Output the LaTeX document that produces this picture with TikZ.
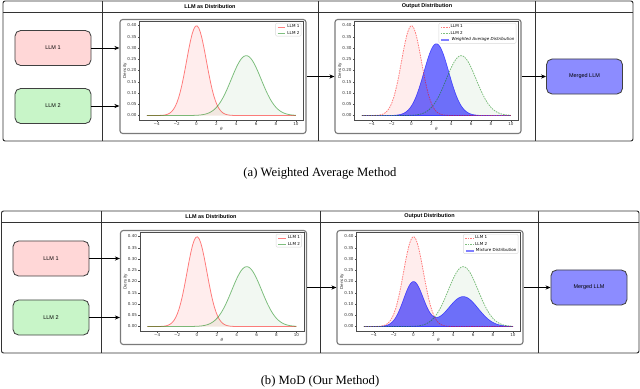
\documentclass[tikz,border=0pt]{standalone}
\usepackage{fontspec}
\setmainfont{Liberation Serif}
\setsansfont{Liberation Sans}
\newfontfamily\plotfont{DejaVu Sans}
\usetikzlibrary{arrows.meta,positioning}

\definecolor{llmpink}{HTML}{FFD7D7}
\definecolor{llmmint}{HTML}{C8F5C8}
\definecolor{mergeblue}{HTML}{8C8CFF}
\definecolor{framegray}{HTML}{7A7A7A}

% small line sample for the legends
\newcommand{\legline}[1]{\tikz[baseline=-0.35ex]\draw[#1] (0pt,0pt) -- (5.5pt,0pt);\hspace{1.2pt}}

% axes, ticks and labels of one density plot (data coordinates)
\newcommand{\plotaxes}{%
    \draw[axisline] (-5.75,-0.02) rectangle (10.75,0.42);
    \foreach \t/\l in {-4/−4,-2/−2,0/0,2/2,4/4,6/6,8/8,10/10}
        \draw[axisline] (\t,-0.02) -- ++(0pt,-1.2pt) node[ticklabel, below=0.4pt] {\l};
    \foreach \v/\l in {0/0.00,0.05/0.05,0.1/0.10,0.15/0.15,0.2/0.20,0.25/0.25,0.3/0.30,0.35/0.35,0.4/0.40}
        \draw[axisline] (-5.75,\v) -- ++(-1.2pt,0pt) node[ticklabel, left=0.4pt] {\l};
    \node[ticklabel, rotate=90] at (-7.2,0.2) {Density};
    \node[ticklabel] at (2.5,-0.062) {\itshape θ};
}

\begin{document}
\begin{tikzpicture}[x=0.025cm, y=-0.025cm,
    declare function={npdf(\a,\m,\s)=exp(-((\a-\m)*(\a-\m))/(2*\s*\s))/(2.5066*\s);}]
    % Styles
    \tikzstyle{panel} = [draw=black!80, line width=0.7pt, rounded corners=1.5pt]
    \tikzstyle{divider} = [draw=black!80, line width=0.7pt]
    \tikzstyle{header} = [font=\sffamily\bfseries\fontsize{3.9}{4.5}\selectfont, inner sep=0pt]
    \tikzstyle{llmbox} = [rectangle, draw=black!75, line width=0.6pt, rounded corners=4pt, minimum width=1.9cm, minimum height=0.875cm, font=\sffamily\fontsize{3.9}{4.5}\selectfont]
    \tikzstyle{plotframe} = [rectangle, draw=framegray, line width=0.8pt, rounded corners=2pt, fill=white, minimum width=4.65cm, minimum height=2.85cm]
    \tikzstyle{arrow} = [line width=0.55pt, -{Stealth[length=3.6pt,width=3pt]}]
    \tikzstyle{axisline} = [draw=black!70, line width=0.25pt]
    \tikzstyle{ticklabel} = [font=\plotfont\fontsize{2.9}{3.4}\selectfont, inner sep=0.3pt, text=black!80]
    \tikzstyle{legendbox} = [draw=black!15, fill=white, rounded corners=0.8pt, inner sep=1.2pt, align=left, line width=0.25pt, font=\plotfont\fontsize{2.9}{4.6}\selectfont]
    \tikzstyle{redline} = [red, draw opacity=0.5, line width=0.55pt]
    \tikzstyle{greenline} = [green!50!black, draw opacity=0.5, line width=0.55pt]
    \tikzstyle{reddashed} = [redline, dash pattern=on 1.1pt off 0.7pt]
    \tikzstyle{greendashed} = [greenline, dash pattern=on 1.1pt off 0.7pt]
    \tikzstyle{redfill} = [fill=red, fill opacity=0.07]
    \tikzstyle{greenfill} = [fill=green!50!black, fill opacity=0.05]
    \tikzstyle{bluefill} = [fill=blue, fill opacity=0.55, draw=blue, draw opacity=0.6, line width=0.4pt]
    \tikzstyle{blueline} = [blue, draw opacity=0.5, line width=1.1pt]

    \useasboundingbox (0,0) rectangle (640,389);

    % Panel (a)
    \draw[panel] (3,1) rectangle (633,141);
    \draw[divider] (3,12) -- (633,12);
    \draw[divider] (102,1) -- (102,141);
    \draw[divider] (318.5,1) -- (318.5,141);
    \draw[divider] (535,1) -- (535,141);
    \node[header] (hdrA1) at (210,6.5) {LLM as Distribution};
    \node[header] (hdrA2) at (427,6.5) {Output Distribution};

    % Panel (b)
    \draw[panel] (1.5,211) rectangle (639,353);
    \draw[divider] (1.5,222) -- (639,222);
    \draw[divider] (101,211) -- (101,353);
    \draw[divider] (320.5,211) -- (320.5,353);
    \draw[divider] (538,211) -- (538,353);
    \node[header] (hdrB1) at (211,216.5) {LLM as Distribution};
    \node[header] (hdrB2) at (429.5,216.5) {Output Distribution};

    % Nodes (a)
    \node[llmbox, fill=llmpink] (llmA1) at (53,48) {LLM 1};
    \node[llmbox, fill=llmmint] (llmA2) at (53,106) {LLM 2};
    \node[plotframe] (distA1) at (213,76.5) {};
    \node[plotframe] (distA2) at (428,76.5) {};
    \node[llmbox, fill=mergeblue] (mergedA) at (584.5,76.5) {Merged LLM};

    % Nodes (b)
    \node[llmbox, fill=llmpink] (llmB1) at (51,258.5) {LLM 1};
    \node[llmbox, fill=llmmint] (llmB2) at (51,317.5) {LLM 2};
    \node[plotframe] (distB1) at (213.5,287.5) {};
    \node[plotframe] (distB2) at (430,287.5) {};
    \node[llmbox, fill=mergeblue] (mergedB) at (589,287.5) {Merged LLM};

    % Plot origins
    \coordinate (oA1) at (196.5,115.5);
    \coordinate (oA2) at (411.5,115.5);
    \coordinate (oB1) at (197,326.5);
    \coordinate (oB2) at (413.5,326.5);

    % Arrows
    \draw[arrow] (llmA1.east) -- (llmA1.east -| distA1.west);
    \draw[arrow] (llmA2.east) -- (llmA2.east -| distA1.west);
    \draw[arrow] (distA1.east) -- (distA2.west);
    \draw[arrow] (distA2.east) -- (mergedA.west);
    \draw[arrow] (llmB1.east) -- (llmB1.east -| distB1.west);
    \draw[arrow] (llmB2.east) -- (llmB2.east -| distB1.west);
    \draw[arrow] (distB1.east) -- (distB2.west);
    \draw[arrow] (distB2.east) -- (mergedB.west);

    % LLM as Distribution (a) and (b)
    \foreach \o/\n in {oA1/legA1, oB1/legB1} {
        \begin{scope}[shift={(\o)}, x=0.2485cm, y=5.625cm]
            \fill[redfill] (-5,0) -- plot[domain=-5:10, samples=90] (\x,{npdf(\x,0,1)}) -- (10,0) -- cycle;
            \fill[greenfill] (-5,0) -- plot[domain=-5:10, samples=90] (\x,{npdf(\x,5,1.5)}) -- (10,0) -- cycle;
            \draw[redline] plot[domain=-5:10, samples=90] (\x,{npdf(\x,0,1)});
            \draw[greenline] plot[domain=-5:10, samples=90] (\x,{npdf(\x,5,1.5)});
            \plotaxes
            \node[legendbox, anchor=north east, xshift=-1.5pt, yshift=-1.5pt] (\n) at (10.75,0.42)
                {\legline{redline}LLM 1\\\legline{greenline}LLM 2};
        \end{scope}
    }

    % Output Distribution (a): weighted average
    \begin{scope}[shift={(oA2)}, x=0.2485cm, y=5.625cm]
        \fill[redfill] (-5,0) -- plot[domain=-5:10, samples=90] (\x,{npdf(\x,0,1)}) -- (10,0) -- cycle;
        \fill[greenfill] (-5,0) -- plot[domain=-5:10, samples=90] (\x,{npdf(\x,5,1.5)}) -- (10,0) -- cycle;
        \draw[bluefill] (-5,0) -- plot[domain=-5:10, samples=100] (\x,{npdf(\x,2.5,1.25)}) -- (10,0) -- cycle;
        \draw[reddashed] plot[domain=-5:10, samples=90] (\x,{npdf(\x,0,1)});
        \draw[greendashed] plot[domain=-5:10, samples=90] (\x,{npdf(\x,5,1.5)});
        \plotaxes
        \node[legendbox, anchor=north east, xshift=-1.5pt, yshift=-1.5pt] (legA2) at (10.75,0.42)
            {\legline{reddashed}LLM 1\\\legline{greendashed}LLM 2\\\legline{blueline}{\itshape Weighted Average Distribution}};
    \end{scope}

    % Output Distribution (b): mixture
    \begin{scope}[shift={(oB2)}, x=0.2485cm, y=5.625cm]
        \fill[redfill] (-5,0) -- plot[domain=-5:10, samples=90] (\x,{npdf(\x,0,1)}) -- (10,0) -- cycle;
        \fill[greenfill] (-5,0) -- plot[domain=-5:10, samples=90] (\x,{npdf(\x,5,1.5)}) -- (10,0) -- cycle;
        \draw[bluefill] (-5,0) -- plot[domain=-5:10, samples=120] (\x,{0.5*npdf(\x,0,1)+0.5*npdf(\x,5,1.5)}) -- (10,0) -- cycle;
        \draw[reddashed] plot[domain=-5:10, samples=90] (\x,{npdf(\x,0,1)});
        \draw[greendashed] plot[domain=-5:10, samples=90] (\x,{npdf(\x,5,1.5)});
        \plotaxes
        \node[legendbox, anchor=north east, xshift=-1.5pt, yshift=-1.5pt] (legB2) at (10.75,0.42)
            {\legline{reddashed}LLM 1\\\legline{greendashed}LLM 2\\\legline{blueline}Mixture Distribution};
    \end{scope}

    % Captions
    \node[font=\fontsize{9}{11}\selectfont] (capA) at (320,173) {(a) Weighted Average Method};
    \node[font=\fontsize{9}{11}\selectfont] (capB) at (320,381) {(b) MoD (Our Method)};
\end{tikzpicture}
\end{document}
